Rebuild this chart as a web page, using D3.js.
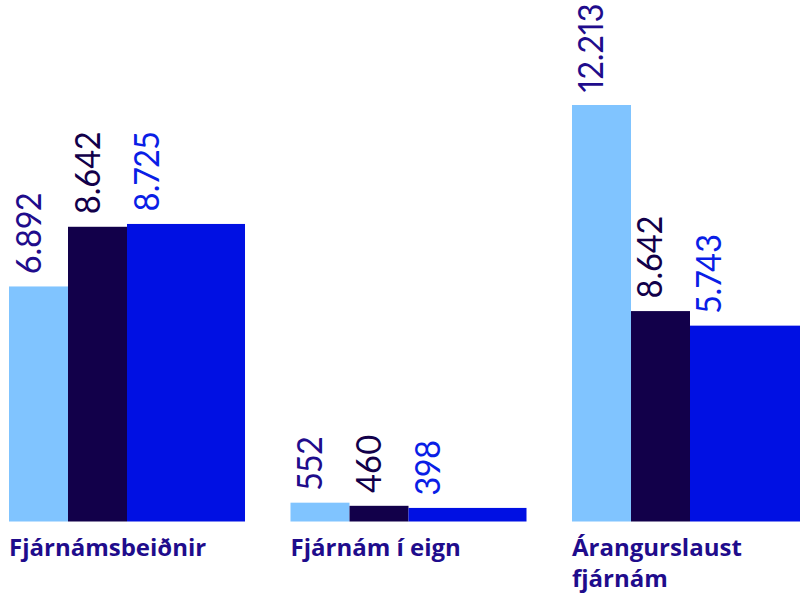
<!DOCTYPE html>
<html><head><meta charset="utf-8">
<script src="https://cdn.jsdelivr.net/npm/d3@7"></script>
<style>
html,body{margin:0;padding:0;background:#fff;}
svg{display:block;}
</style></head>
<body>
<svg id="chart" width="800" height="593"></svg>
<script>
// ---- data ----
const categories = ["Fjárnámsbeiðnir", "Fjárnám í eign", "Árangurslaust fjárnám"];
const seriesNames = ["s1", "s2", "s3"];
// bar values (as drawn in the reference)
const series1 = [6892, 552, 12213];
const series2 = [8642, 460, 6170];
const series3 = [8725, 398, 5743];
// printed labels (as shown in the reference)
const labels1 = ["6.892", "552", "12.213"];
const labels2 = ["8.642", "460", "8.642"];
const labels3 = ["8.725", "398", "5.743"];

const barColors = ["#80c4ff", "#12004a", "#0010e3"];
const labelColors = ["#1f0c8c", "#12004a", "#0a1ee6"];
const catColor = "#1f0c8c";

const values = [series1, series2, series3];
const labels = [labels1, labels2, labels3];

const svg = d3.select("#chart");
const baseY = 521.5;

const x0 = d3.scaleBand().domain(categories).range([9, 808]).paddingInner(0.1616).paddingOuter(0);
const slots = d3.scaleBand().domain([0, 1, 2, 3]).range([0, x0.bandwidth()]);
const y = d3.scaleLinear().domain([0, 12213]).range([baseY, 105]);

const rows = [];
categories.forEach((c, ci) => {
  seriesNames.forEach((s, si) => {
    rows.push({cat: c, si, v: values[si][ci], lab: labels[si][ci]});
  });
});

const g = svg.append("g");
g.selectAll("rect").data(rows).join("rect")
  .attr("x", d => x0(d.cat) + slots(d.si))
  .attr("width", d => d.si === 2 ? x0.bandwidth() - slots(d.si) : slots.bandwidth())
  .attr("y", d => y(d.v))
  .attr("height", d => baseY - y(d.v))
  .attr("fill", d => barColors[d.si]);

g.selectAll("text.val").data(rows).join("text")
  .attr("class", "val")
  .attr("transform", d => `translate(${x0(d.cat) + slots(d.si) + slots.bandwidth() / 2 + 2},${y(d.v) - 12.5}) rotate(-90) scale(0.93,1)`)
  .attr("text-anchor", "start")
  .style("font-family", "Lato, 'Open Sans', sans-serif")
  .style("font-size", "35px")
  .style("font-feature-settings", "'pnum'")
  .attr("fill", d => labelColors[d.si])
  .text(d => d.lab);

// category labels (wrapped to band width)
const catG = svg.append("g");
categories.forEach(c => {
  const t = catG.append("text")
    .attr("x", x0(c))
    .attr("y", 556)
    .style("font-family", "'Open Sans', sans-serif")
    .style("font-weight", "700")
    .style("font-size", "24px")
    .attr("fill", catColor);
  const words = c.split(" ");
  let line = [];
  let ts = t.append("tspan").attr("x", x0(c)).attr("dy", 0);
  words.forEach(w => {
    line.push(w);
    ts.text(line.join(" "));
    if (ts.node().getComputedTextLength() > x0.bandwidth() && line.length > 1) {
      line.pop();
      ts.text(line.join(" "));
      line = [w];
      ts = t.append("tspan").attr("x", x0(c)).attr("dy", 31).text(w);
    }
  });
});
</script>
</body></html>
